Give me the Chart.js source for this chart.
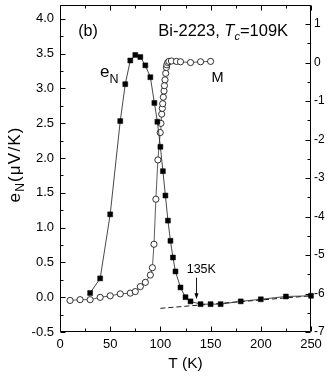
<!DOCTYPE html>
<html><head><meta charset="utf-8">
<script src="https://cdn.jsdelivr.net/npm/chart.js@4/dist/chart.umd.min.js"></script>
<style>html,body{margin:0;padding:0;background:#fff;}</style>
</head><body>
<canvas id="c" width="327" height="380"></canvas>
<script>
// ---- data ----
const eNTemps  = [30, 40, 50, 60, 65, 70, 75, 80, 85, 90, 94, 97, 100, 102.5, 105, 107.5, 110, 112.5, 115, 120, 125, 130, 140, 150, 160, 180, 200, 225, 250];
const eNValues = [0.06, 0.27, 1.19, 2.53, 3.06, 3.40, 3.48, 3.45, 3.33, 3.16, 2.79, 2.52, 2.16, 1.81, 1.46, 1.10, 0.81, 0.57, 0.37, 0.14, 0.0, -0.06, -0.10, -0.10, -0.10, -0.06, -0.03, 0.01, 0.02];
const mTemps   = [10, 20, 30, 40, 50, 60, 70, 75, 80, 85, 90, 92, 93.6, 95.5, 97.5, 99.8, 100.5, 101.3, 101.9, 102.3, 102.9, 103.6, 104, 104.6, 105.3, 106, 106.4, 107.3, 108.5, 111, 116, 120, 130, 140, 150];
const mValues  = [-6.18, -6.16, -6.16, -6.10, -6.06, -6.01, -5.99, -5.95, -5.82, -5.71, -5.52, -5.33, -4.72, -3.55, -2.53, -1.82, -1.58, -1.34, -1.19, -1.07, -0.90, -0.74, -0.60, -0.45, -0.28, -0.13, -0.06, 0.0, 0.03, 0.04, 0.03, 0.02, 0.0, 0.02, 0.03];
const fitTemps  = [100, 250];
const fitValues = [-0.16, 0.02];
const xTickValues  = [0, 50, 100, 150, 200, 250];
const yTickValues  = [-0.5, 0, 0.5, 1.0, 1.5, 2.0, 2.5, 3.0, 3.5, 4.0];
const y2TickValues = [-7, -6, -5, -4, -3, -2, -1, 0, 1];

const FONT = "'Liberation Sans', Arial, Helvetica, sans-serif";
const pts = (xs, ys) => xs.map((x, i) => ({x: x, y: ys[i]}));

function drawRuns(ctx, x, y, runs) {
  let cx = x;
  runs.forEach(r => {
    ctx.font = r.font;
    ctx.fillText(r.text, cx, y + (r.dy || 0));
    cx += ctx.measureText(r.text).width;
  });
  return cx;
}
function runsWidth(ctx, runs) {
  let w = 0;
  runs.forEach(r => { ctx.font = r.font; w += ctx.measureText(r.text).width; });
  return w;
}

const framePlugin = {
  id: 'frameTicks',
  afterDatasetsDraw(chart) {
    const {ctx, chartArea: a, scales: {x, y, y2}} = chart;
    const L = Math.round(a.left) + 0.5, R = Math.round(a.right) - 0.5;
    const T = Math.round(a.top) + 0.5, B = Math.round(a.bottom) - 0.5;
    ctx.save();
    ctx.strokeStyle = '#000';
    ctx.lineWidth = 1;
    ctx.beginPath();
    ctx.rect(L, T, R - L, B - T);
    // x ticks (bottom + top), major + minor
    const tick = (x1, y1, x2, y2_) => { ctx.moveTo(x1, y1); ctx.lineTo(x2, y2_); };
    for (let i = 0; i < xTickValues.length; i++) {
      const px = Math.round(x.getPixelForValue(xTickValues[i])) + 0.5;
      tick(px, B, px, B - 5); tick(px, T, px, T + 5);
      if (i < xTickValues.length - 1) {
        const pm = Math.round(x.getPixelForValue((xTickValues[i] + xTickValues[i + 1]) / 2)) + 0.5;
        tick(pm, B, pm, B - 3); tick(pm, T, pm, T + 3);
      }
    }
    for (let i = 0; i < yTickValues.length; i++) {
      const py = Math.round(y.getPixelForValue(yTickValues[i])) + 0.5;
      tick(L, py, L + 5, py);
      const nv = (i < yTickValues.length - 1) ? (yTickValues[i] + yTickValues[i + 1]) / 2 : yTickValues[i] + 0.25;
      if (nv <= y.max) {
        const pm = Math.round(y.getPixelForValue(nv)) + 0.5;
        tick(L, pm, L + 3, pm);
      }
    }
    for (let i = 0; i < y2TickValues.length; i++) {
      const py = Math.round(y2.getPixelForValue(y2TickValues[i])) + 0.5;
      tick(R, py, R - 5, py);
      const nv = (i < y2TickValues.length - 1) ? (y2TickValues[i] + y2TickValues[i + 1]) / 2 : y2TickValues[i] + 0.5;
      if (nv <= y2.max) {
        const pm = Math.round(y2.getPixelForValue(nv)) + 0.5;
        tick(R, pm, R - 3, pm);
      }
    }
    ctx.stroke();

    // annotations
    ctx.fillStyle = '#000';
    ctx.textBaseline = 'alphabetic';
    ctx.textAlign = 'left';
    ctx.font = '16px ' + FONT;
    ctx.fillText('(b)', x.getPixelForValue(18.2), y.getPixelForValue(3.755));
    drawRuns(ctx, x.getPixelForValue(97.9), y.getPixelForValue(3.755), [
      {text: 'Bi-2223, ', font: '16.5px ' + FONT},
      {text: 'T', font: 'italic 16.5px ' + FONT},
      {text: 'c', font: 'italic 11px ' + FONT, dy: 4},
      {text: '=109K', font: '16.5px ' + FONT}
    ]);
    drawRuns(ctx, x.getPixelForValue(39.8), y.getPixelForValue(3.17), [
      {text: 'e', font: '17px ' + FONT},
      {text: 'N', font: '12.5px ' + FONT, dy: 6}
    ]);
    ctx.font = '14.5px ' + FONT;
    ctx.fillText('M', x.getPixelForValue(151), y.getPixelForValue(3.09));
    ctx.font = '12.5px ' + FONT;
    ctx.fillText('135K', x.getPixelForValue(126.2), y.getPixelForValue(0.35));
    // arrow
    const ax = Math.round(x.getPixelForValue(135.2)) + 0.5;
    const ay1 = y.getPixelForValue(0.28), ay2 = y.getPixelForValue(-0.03);
    ctx.beginPath(); ctx.lineWidth = 0.9;
    ctx.moveTo(ax, ay1); ctx.lineTo(ax, ay2 - 3); ctx.stroke();
    ctx.beginPath();
    ctx.moveTo(ax, ay2); ctx.lineTo(ax - 2, ay2 - 6); ctx.lineTo(ax + 2, ay2 - 6); ctx.closePath(); ctx.fill();

    // y axis title with subscript (rotated)
    const runs = [
      {text: 'e', font: '17px ' + FONT},
      {text: 'N', font: '12px ' + FONT, dy: 4},
      {text: '(\u03BCV/K)', font: '17px ' + FONT}
    ];
    ctx.save();
    try { ctx.letterSpacing = '1.2px'; } catch (e) {}
    const w = runsWidth(ctx, runs);
    const cy = (a.top + a.bottom) / 2 - 4;
    ctx.translate(19.5, cy);
    ctx.rotate(-Math.PI / 2);
    drawRuns(ctx, -w / 2, 0, runs);
    ctx.restore();
    ctx.restore();
  }
};

new Chart(document.getElementById('c'), {
  type: 'scatter',
  data: {
    datasets: [
      {
        label: 'eN', data: pts(eNTemps, eNValues), yAxisID: 'y', showLine: true,
        borderColor: '#333', borderWidth: 0.9, pointStyle: 'rect', pointRadius: 3.5,
        pointBackgroundColor: '#000', pointBorderColor: '#000', pointBorderWidth: 0.5, clip: 6
      },
      {
        label: 'M', data: pts(mTemps, mValues), yAxisID: 'y2', showLine: true,
        borderColor: '#333', borderWidth: 0.8, pointStyle: 'circle', pointRadius: 3.1,
        pointBackgroundColor: '#fff', pointBorderColor: '#000', pointBorderWidth: 0.8, clip: 6
      },
      {
        label: 'fit', data: pts(fitTemps, fitValues), yAxisID: 'y', showLine: true,
        borderColor: '#000', borderWidth: 0.9, borderDash: [5, 3], pointRadius: 0
      }
    ]
  },
  options: {
    responsive: false, animation: false, devicePixelRatio: 1,
    layout: {padding: 0},
    plugins: {legend: {display: false}, tooltip: {enabled: false}},
    scales: {
      x: {
        type: 'linear', position: 'bottom', min: 0, max: 250,
        afterBuildTicks: s => { s.ticks = xTickValues.map(v => ({value: v})); },
        afterFit: s => { s.height = 48; s.paddingLeft = 0; s.paddingRight = 0; },
        grid: {display: false, drawTicks: false}, border: {display: false},
        ticks: {color: '#000', font: {family: FONT, size: 13}, padding: 5, maxRotation: 0, autoSkip: false},
        title: {display: true, text: 'T (K)', color: '#000', font: {family: FONT, size: 15.5}, padding: {top: 0, bottom: 7}}
      },
      y: {
        type: 'linear', position: 'left', min: -0.5, max: 4.2,
        afterBuildTicks: s => { s.ticks = yTickValues.map(v => ({value: v})); },
        afterFit: s => { s.width = 60; s.paddingTop = 0; s.paddingBottom = 0; },
        grid: {display: false, drawTicks: false}, border: {display: false},
        ticks: {color: '#000', font: {family: FONT, size: 13}, padding: 6, callback: v => v.toFixed(1)}
      },
      y2: {
        type: 'linear', position: 'right', min: -7, max: 1.5,
        afterBuildTicks: s => { s.ticks = y2TickValues.map(v => ({value: v})); },
        afterFit: s => { s.width = 16; s.paddingTop = 0; s.paddingBottom = 0; },
        grid: {display: false, drawTicks: false}, border: {display: false},
        ticks: {color: '#000', font: {family: FONT, size: 12}, padding: 3, callback: v => String(v)}
      }
    }
  },
  plugins: [framePlugin]
});
</script>
</body></html>
